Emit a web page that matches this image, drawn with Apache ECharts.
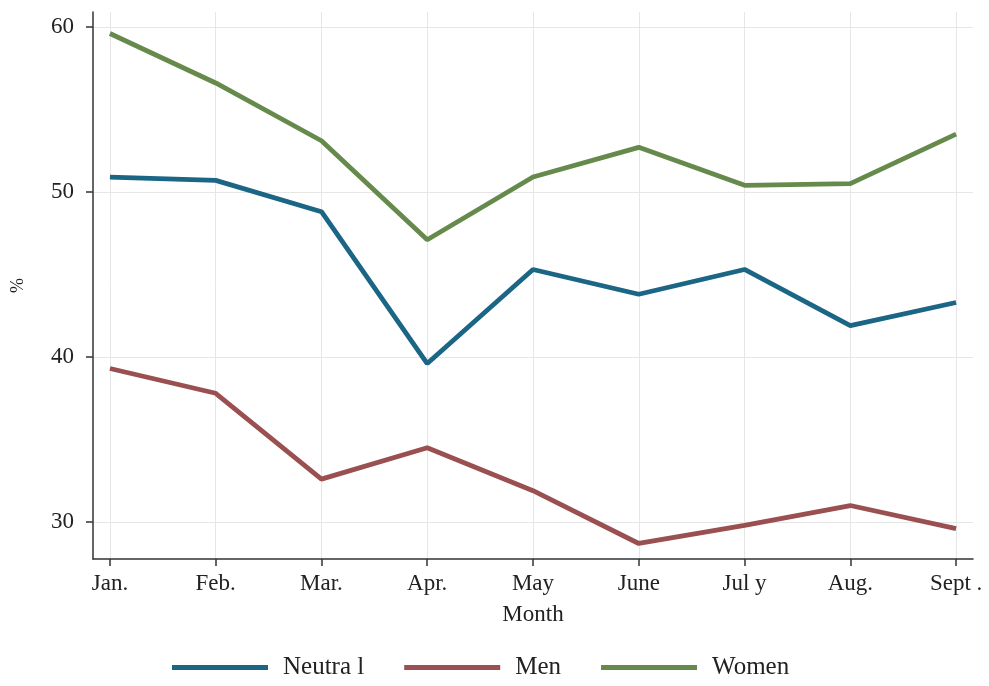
<!DOCTYPE html>
<html>
<head>
<meta charset="utf-8">
<script src="https://cdn.jsdelivr.net/npm/echarts@6/dist/echarts.min.js"></script>
<style>
  html, body { margin: 0; padding: 0; background: #fff; }
  #chart { width: 989px; height: 686px; }
</style>
</head>
<body>
<div id="chart"></div>
<script>
const months = ['Jan.', 'Feb.', 'Mar.', 'Apr.', 'May', 'June', 'Jul y', 'Aug.', 'Sept .']
const neutral = [50.9, 50.7, 48.8, 39.6, 45.3, 43.8, 45.3, 41.9, 43.3]
const men = [39.3, 37.8, 32.6, 34.5, 31.9, 28.7, 29.8, 31.0, 29.6]
const women = [59.6, 56.6, 53.1, 47.1, 50.9, 52.7, 50.4, 50.5, 53.5]
const yTicks = [30, 40, 50, 60]

const font = 'Liberation Serif'
const axisColor = '#333'
const gridColor = '#e6e6e6'
const monthIdx = months.map((m, i) => i)

const chart = echarts.init(document.getElementById('chart'))

function pts(arr) {
  return arr.map((v, i) => [i, v])
}

function line(name, data, color) {
  return {
    name,
    type: 'line',
    data: pts(data),
    symbol: 'none',
    lineStyle: { color, width: 4.8 },
    itemStyle: { color },
  }
}

chart.setOption({
  backgroundColor: '#fff',
  animation: false,
  grid: { left: 93, right: 16, top: 12, bottom: 127, outerBoundsMode: 'none', containLabel: false },
  xAxis: {
    type: 'value',
    min: -0.16,
    max: 8.16,
    name: 'Month',
    nameLocation: 'middle',
    nameGap: 44,
    nameTextStyle: { fontFamily: font, fontSize: 23, color: '#222' },
    axisLine: { onZero: false, lineStyle: { color: axisColor, width: 1.5 } },
    axisTick: { length: 7, customValues: monthIdx, lineStyle: { color: axisColor, width: 1.5 } },
    axisLabel: {
      customValues: monthIdx,
      formatter: v => months[Math.round(v)],
      fontFamily: font, fontSize: 23, color: '#222', margin: 13,
    },
    splitLine: { show: true, lineStyle: { color: gridColor, width: 1 } },
  },
  yAxis: {
    type: 'value',
    min: 27.76,
    max: 60.9,
    name: '%',
    nameLocation: 'middle',
    nameGap: 66,
    nameTextStyle: { fontFamily: font, fontSize: 18, color: '#222' },
    axisLine: { show: true, onZero: false, lineStyle: { color: axisColor, width: 1.5 } },
    axisTick: { show: true, length: 7, customValues: yTicks, lineStyle: { color: axisColor, width: 1.5 } },
    axisLabel: {
      customValues: yTicks,
      fontFamily: font, fontSize: 23, color: '#222', margin: 19,
    },
    splitLine: { show: true, lineStyle: { color: gridColor, width: 1 } },
  },
  legend: {
    bottom: 1,
    left: 167,
    icon: 'rect',
    itemWidth: 96,
    itemHeight: 5,
    itemGap: 40,
    textStyle: { fontFamily: font, fontSize: 25, color: '#222', padding: [0, 0, 0, 10] },
    data: ['Neutra l', 'Men', 'Women'],
  },
  series: [
    line('Neutra l', neutral, '#1b6585'),
    line('Men', men, '#9a4f50'),
    line('Women', women, '#668a4c'),
  ],
})
</script>
</body>
</html>
